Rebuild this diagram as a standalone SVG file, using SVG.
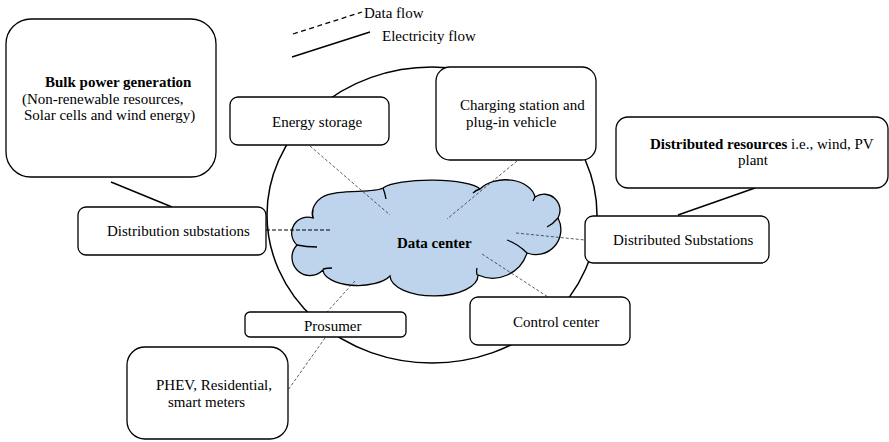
<svg xmlns="http://www.w3.org/2000/svg" width="889" height="442" viewBox="0 0 889 442">
  <style>
    .box { fill: #ffffff; stroke: #000000; stroke-width: 1.3; }
    .lbl { font-family: "Liberation Serif", "Times New Roman", serif; font-size: 15px; fill: #000000; }
    .b { font-weight: bold; }
    .data { stroke: #333333; stroke-width: 0.8; stroke-dasharray: 3 2; fill: none; }
    .power { stroke: #000000; stroke-width: 1.4; fill: none; }
    .cloud { fill: #bdd4ec; stroke: #000000; stroke-width: 1.3; }
    .inner { fill: none; stroke: #000000; stroke-width: 1.3; }
  </style>

  <rect width="889" height="442" fill="#ffffff"/>

  <!-- legend -->
  <g id="legend">
    <line x1="293" y1="34" x2="362" y2="12" stroke="#000" stroke-width="1.3" stroke-dasharray="5 3.5"/>
    <text class="lbl" x="364" y="18">Data flow</text>
    <line x1="292" y1="57" x2="370" y2="32" stroke="#000" stroke-width="1.4"/>
    <text class="lbl" x="382" y="41">Electricity flow</text>
  </g>

  <!-- smart grid boundary -->
  <ellipse id="grid-boundary" cx="432" cy="215" rx="165" ry="148" fill="none" stroke="#000" stroke-width="1.5"/>

  <!-- central cloud -->
  <g id="data-center">
    <path class="cloud" d="M313,218
      A16,16 0 0 0 297,245
      A18,18 0 0 0 323,270
      A35,16 0 0 0 390,276
      A43,20 0 0 0 478,275
      A36,36 0 0 0 527,253
      A25,25 0 0 0 558,218
      A16,16 0 0 0 535,197
      A30,20 0 0 0 480,189
      A50,11 0 0 0 383,188
      C372,194 336,188 321,198
      C313,204 311,212 313,218 Z"/>
    <path class="inner" d="M297,245 Q306,247 317,247"/>
    <path class="inner" d="M323,269 Q327,268 332,268"/>
    <path class="inner" d="M477,275 Q476,271 477,268"/>
    <path class="inner" d="M527,253 Q518,244 507,240"/>
    <path class="inner" d="M558,218 Q553,224 547,227"/>
    <path class="inner" d="M535,197 Q534,199 533,201"/>
    <path class="inner" d="M480,189 Q476,190 473,193"/>
    <path class="inner" d="M383,188 Q385,193 386,199"/>
    <path class="inner" d="M313,218 Q312,214 313,210"/>
    <text class="lbl b" x="397" y="248">Data center</text>
  </g>

  <!-- connectors -->
  <g id="connectors">
    <line class="power" x1="111" y1="182" x2="172" y2="207"/>
    <line class="power" x1="755" y1="188" x2="678" y2="215"/>
    <line x1="266" y1="230" x2="332" y2="230" stroke="#000" stroke-width="1" stroke-dasharray="4 2"/>
    <line class="data" x1="310" y1="146" x2="390" y2="215"/>
    <line class="data" x1="517" y1="161" x2="447" y2="219"/>
    <line class="data" x1="516" y1="233" x2="585" y2="240"/>
    <line class="data" x1="482" y1="254" x2="548" y2="297"/>
    <line class="data" x1="355" y1="281" x2="327" y2="312"/>
    <line class="data" x1="325" y1="338" x2="288" y2="390"/>
  </g>

  <g id="bulk-generation">
    <rect class="box" x="6" y="19" width="210" height="158" rx="25"/>
    <text class="lbl b" x="45" y="87">Bulk power generation</text>
    <text class="lbl" x="22" y="104">(Non-renewable resources,</text>
    <text class="lbl" x="24" y="120">Solar cells and wind energy)</text>
  </g>

  <g id="energy-storage">
    <rect class="box" x="230" y="97" width="159" height="48" rx="8"/>
    <text class="lbl" x="272" y="127">Energy storage</text>
  </g>

  <g id="charging-station">
    <rect class="box" x="436" y="67" width="160" height="93" rx="14"/>
    <text class="lbl" x="460" y="110">Charging station and</text>
    <text class="lbl" x="466" y="127">plug-in vehicle</text>
  </g>

  <g id="distributed-resources">
    <rect class="box" x="616" y="117" width="272" height="71" rx="12"/>
    <text class="lbl" x="650" y="149"><tspan class="b">Distributed resources</tspan> i.e., wind, PV</text>
    <text class="lbl" x="738" y="165">plant</text>
  </g>

  <g id="distributed-substations">
    <rect class="box" x="585" y="216" width="184" height="47" rx="8"/>
    <text class="lbl" x="613" y="245">Distributed Substations</text>
  </g>

  <g id="distribution-substations">
    <rect class="box" x="78" y="207" width="188" height="48" rx="8"/>
    <text class="lbl" x="107" y="236">Distribution substations</text>
  </g>

  <g id="control-center">
    <rect class="box" x="470" y="297" width="160" height="48" rx="8"/>
    <text class="lbl" x="513" y="327">Control center</text>
  </g>

  <g id="prosumer">
    <rect class="box" x="245" y="312" width="161" height="25" rx="5"/>
    <text class="lbl" x="304" y="331">Prosumer</text>
  </g>

  <g id="phev">
    <rect class="box" x="127" y="347" width="161" height="92" rx="18"/>
    <text class="lbl" x="156" y="390">PHEV, Residential,</text>
    <text class="lbl" x="168" y="407">smart meters</text>
  </g>
</svg>
